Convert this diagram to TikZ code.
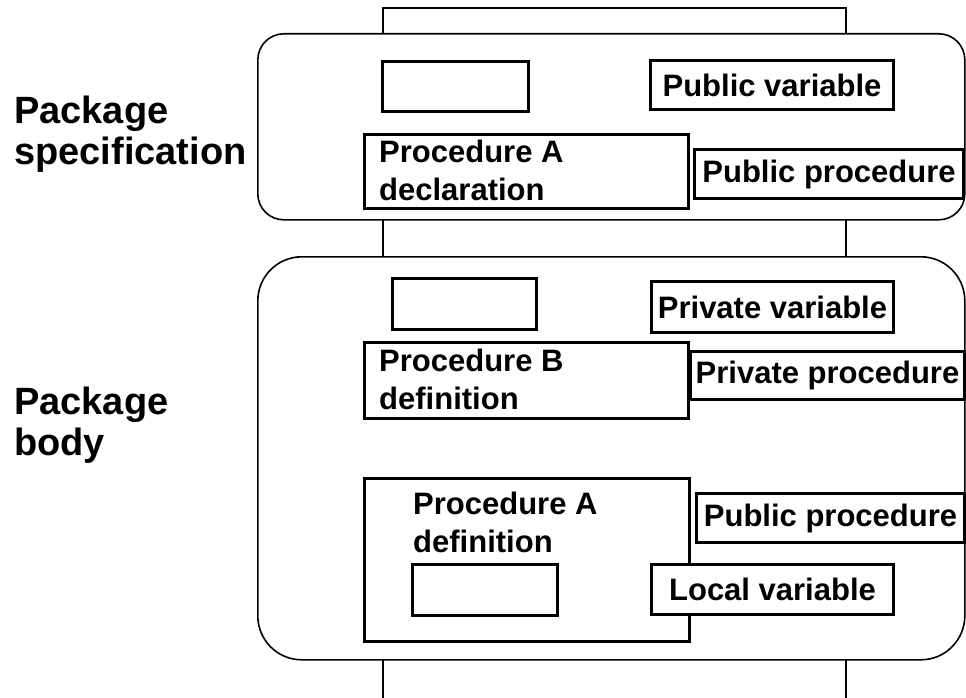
\documentclass[tikz,border=0pt]{standalone}
\usepackage{fontspec}
\setmainfont{Liberation Sans}
\usetikzlibrary{positioning}

\tikzset{
  pkgframe/.style={draw, fill=white, line width=1.6pt, anchor=north west, inner sep=0pt},
  unitbox/.style={draw, fill=white, line width=3pt, anchor=north west, inner sep=0pt,
    font=\fontsize{31}{37}\selectfont\bfseries},
  boxtext/.style={anchor=north west, inner sep=0pt, align=left,
    font=\fontsize{31}{37.5}\selectfont\bfseries},
  sidelabel/.style={anchor=north west, inner sep=0pt, align=left,
    font=\fontsize{38}{41}\selectfont\bfseries},
  rail/.style={line width=1.3pt},
}

\begin{document}
\begin{tikzpicture}[x=1pt, y=-1pt]
\useasboundingbox (0,0) rectangle (966,698);

% the two rails behind the frames
\coordinate (railtl) at (383,8);
\coordinate (railtr) at (846,8);
\coordinate (railbl) at (383,698);
\coordinate (railbr) at (846,698);
\draw[rail] (railbl) -- (railtl) -- (railtr) -- (railbr);

% package frames
\node[pkgframe, rounded corners=26pt, minimum width=707pt, minimum height=186pt] (spec) at (257,33) {};
\node[pkgframe, rounded corners=44pt, minimum width=707pt, minimum height=403pt] (body) at (257,256) {};

% side labels
\node[sidelabel] (speclabel) at (14,96) {Package\\specification};
\node[sidelabel] (bodylabel) at (14,387) {Package\\body};

% specification
\node[unitbox, minimum width=146pt, minimum height=50pt] (specvar) at (381,60) {};
\node[unitbox, minimum width=243pt, minimum height=49pt] (pubvar) at (649,59) {Public variable};
\node[unitbox, minimum width=324pt, minimum height=74pt] (decla) at (363,133) {};
\node[boxtext, below right=7pt and 16pt of decla.north west] (declatext) {Procedure A\\declaration};
\node[unitbox, minimum width=269pt, minimum height=49pt] (pubproc) at (693,148) {Public procedure};

% body
\node[unitbox, minimum width=144pt, minimum height=51pt] (bodyvar) at (391,277) {};
\node[unitbox, minimum width=242pt, minimum height=51pt] (privvar) at (650,280) {Private variable};
\node[unitbox, minimum width=324pt, minimum height=76pt] (defb) at (363,341) {};
\node[boxtext, below right=8pt and 16pt of defb.north west] (defbtext) {Procedure B\\definition};
\node[unitbox, minimum width=274pt, minimum height=48pt] (privproc) at (689,350) {Private procedure};

\node[unitbox, minimum width=325pt, minimum height=163pt] (defa) at (363,477) {};
\node[boxtext, below right=15pt and 50pt of defa.north west] (defatext) {Procedure A\\definition};
\node[unitbox, minimum width=145pt, minimum height=51pt] (localbox) at (411,563) {};
\node[unitbox, minimum width=268pt, minimum height=49pt] (pubproc2) at (695,492) {Public procedure};
\node[unitbox, minimum width=242pt, minimum height=50pt] (localvar) at (650,563) {Local variable};

\end{tikzpicture}
\end{document}
